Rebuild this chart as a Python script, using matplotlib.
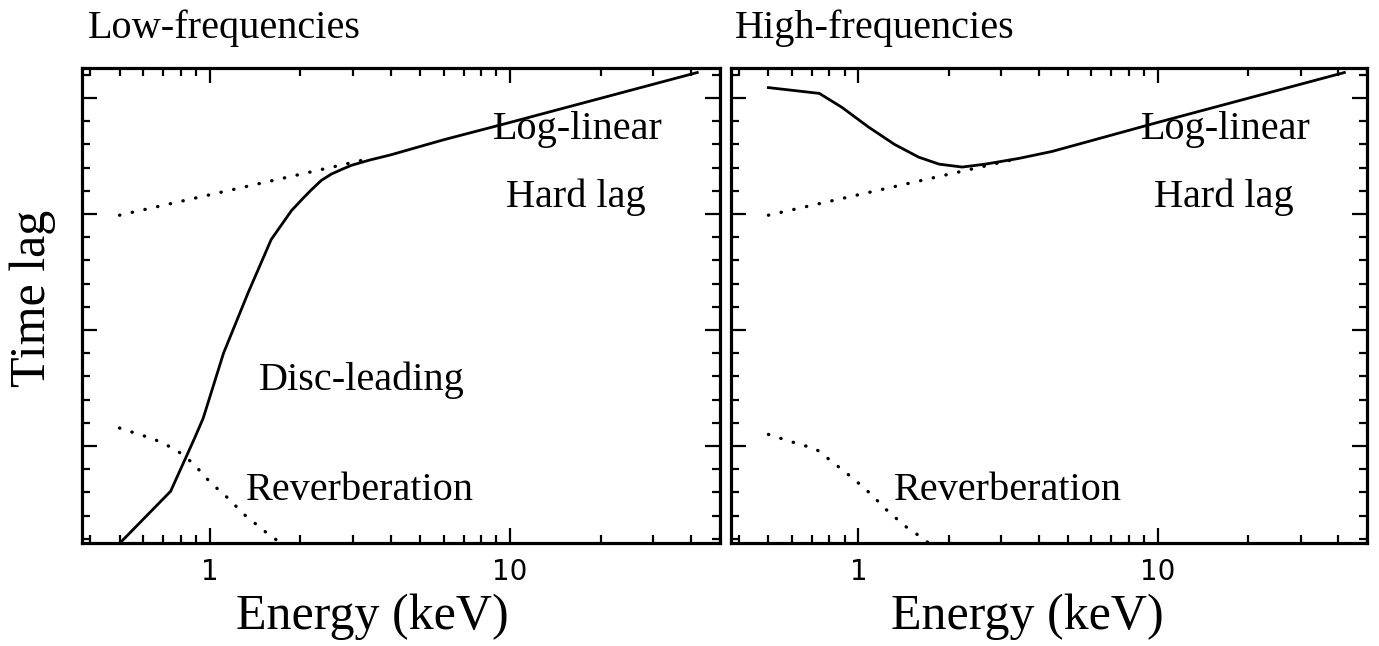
import numpy as np
import matplotlib
matplotlib.use('Agg')
import matplotlib.pyplot as plt
from matplotlib.ticker import FixedLocator, MultipleLocator, LogLocator, NullFormatter

# energy in keV, lag in arbitrary units
lin_e = [0.5, 3.3]
lin_y = [1.99, 2.47]

low_e = [0.5, 0.74, 0.89, 0.95, 1.11, 1.34, 1.60, 1.87, 2.05, 2.18, 2.35, 2.54, 2.75, 2.96, 3.4, 4.0, 6.0, 10, 42]
low_y = [-0.84, -0.39, 0.07, 0.24, 0.80, 1.32, 1.78, 2.03, 2.14, 2.21, 2.29, 2.345, 2.385, 2.42, 2.465, 2.51, 2.64, 2.79, 3.22]

high_e = [0.5, 0.74, 0.88, 1.08, 1.32, 1.59, 1.86, 2.22, 2.65, 3.44, 4.44, 10, 42]
high_y = [3.09, 3.04, 2.92, 2.75, 2.60, 2.49, 2.43, 2.405, 2.43, 2.48, 2.54, 2.79, 3.22]

rev_low_e = [0.5, 0.65, 0.77, 0.88, 1.0, 1.15, 1.30, 1.60, 1.74]
rev_low_y = [0.155, 0.06, -0.03, -0.15, -0.31, -0.45, -0.59, -0.78, -0.84]

rev_high_e = [0.5, 0.6, 0.72, 0.83, 0.96, 1.09, 1.24, 1.43, 1.65, 1.72]
rev_high_y = [0.10, 0.035, -0.025, -0.15, -0.28, -0.405, -0.55, -0.69, -0.80, -0.84]

xticks = [1, 10]
xtick_labels = ['1', '10']

serif = 'Liberation Serif'
dotted = (0, (0.1, 3.8))

fig = plt.figure(figsize=(13.79, 6.46), dpi=100)
ax1 = fig.add_axes([82 / 1379, 1 - 543 / 646, 638 / 1379, 475 / 646])
ax2 = fig.add_axes([731 / 1379, 1 - 543 / 646, 636 / 1379, 475 / 646])


def style_axes(ax):
    ax.set_xscale('log')
    ax.set_xlim(0.375, 50)
    ax.set_ylim(-0.836, 3.259)
    ax.xaxis.set_major_locator(FixedLocator(xticks))
    ax.set_xticklabels(xtick_labels)
    ax.xaxis.set_minor_locator(LogLocator(base=10, subs=np.arange(2, 10)))
    ax.xaxis.set_minor_formatter(NullFormatter())
    ax.yaxis.set_major_locator(MultipleLocator(1))
    ax.yaxis.set_minor_locator(MultipleLocator(0.2))
    ax.set_yticklabels([])
    ax.tick_params(which='both', direction='in', top=True, right=True, width=1.6)
    ax.tick_params(which='major', length=11, pad=11, labelsize=20)
    ax.tick_params(which='minor', length=6)
    for s in ax.spines.values():
        s.set_linewidth(2.3)


for ax in (ax1, ax2):
    style_axes(ax)
    ax.plot(lin_e, lin_y, color='black', lw=2.4, linestyle=dotted, dash_capstyle='round')

ax1.plot(low_e, low_y, color='black', lw=2.0)
ax1.plot(rev_low_e, rev_low_y, color='black', lw=2.4, linestyle=dotted, dash_capstyle='round')
ax2.plot(high_e, high_y, color='black', lw=2.0)
ax2.plot(rev_high_e, rev_high_y, color='black', lw=2.4, linestyle=dotted, dash_capstyle='round')

tkw = dict(fontsize=29, family=serif, ha='center', va='center')
for ax in (ax1, ax2):
    ax.text((578 - 82) / 638, (543 - 130) / 475, 'Log-linear', transform=ax.transAxes, **tkw)
    ax.text((576 - 82) / 638, (543 - 197) / 475, 'Hard lag', transform=ax.transAxes, **tkw)
    ax.text((360 - 82) / 638, (543 - 490) / 475, 'Reverberation', transform=ax.transAxes, **tkw)
ax1.text((362 - 82) / 638, (543 - 380) / 475, 'Disc-leading', transform=ax1.transAxes, **tkw)

fig.text(88 / 1379, 1 - 28 / 646, 'Low-frequencies', fontsize=29, family=serif, ha='left', va='center')
fig.text(735 / 1379, 1 - 28 / 646, 'High-frequencies', fontsize=29, family=serif, ha='left', va='center')
fig.text(372 / 1379, 1 - 617 / 646, 'Energy (keV)', fontsize=36, family=serif, ha='center', va='center')
fig.text(1027 / 1379, 1 - 617 / 646, 'Energy (keV)', fontsize=36, family=serif, ha='center', va='center')
fig.text(33 / 1379, 1 - 298 / 646, 'Time lag', fontsize=36, family=serif, ha='center', va='center',
         rotation=90)

fig.savefig('out.png', dpi=100)
